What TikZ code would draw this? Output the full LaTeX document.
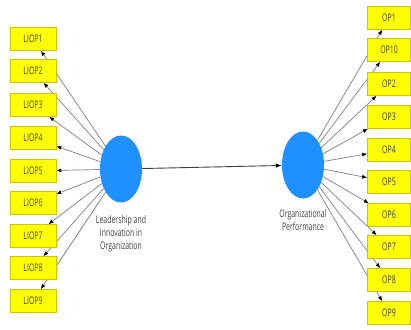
\documentclass[tikz,border=0pt]{standalone}
\usepackage{fontspec}
\setmainfont{Open Sans}[FakeStretch=0.66]
\usetikzlibrary{arrows.meta,backgrounds,shapes.geometric}
\definecolor{boxyellow}{RGB}{255,255,0}
\definecolor{boxline}{RGB}{205,195,0}
\definecolor{latblue}{RGB}{30,144,255}
\definecolor{linegray}{RGB}{128,128,128}
\definecolor{textgray}{RGB}{64,64,64}
\begin{document}
\begin{tikzpicture}[x=1pt,y=-1pt,
  ind/.style={draw=boxline, line width=0.5pt, fill=boxyellow, minimum width=46pt, minimum height=23pt, inner sep=0pt, font=\fontsize{10.5}{13}\selectfont, text=textgray},
  lat/.style={ellipse, fill=latblue, draw=none, minimum width=42pt, minimum height=67pt, inner sep=0pt},
  lbl/.style={align=center, font=\fontsize{10.5}{13}\selectfont, text=textgray},
  edgeline/.style={draw=linegray, line width=0.7pt, -{Latex[length=5pt,width=4pt,black]}},
  pathline/.style={draw=black!75, line width=0.9pt, -{Latex[length=6pt,width=4.5pt,black]}}]
\useasboundingbox (0,0) rectangle (411,329);
\node[lat] (LIO) at (121,169) {};
\node[lat] (OP) at (303,165) {};
\node[lbl] (LIOlbl) at (121,234) {Leadership and\\Innovation in\\Organization};
\node[lbl] (OPlbl) at (303,220.5) {Organizational\\Performance};
\foreach \i/\y in {1/39,2/71,3/105,4/138,5/171,6/203,7/236,8/268,9/301}
  \node[ind] (L\i) at (33,\y) {LIOP\i};
\foreach \i/\y in {1/18,10/50,2/84,3/117,4/150,5/182,6/215,7/247,8/280,9/313}
  \node[ind, minimum width=43pt] (R\i) at (389,\y) {OP\i};
\begin{scope}[on background layer]
  \fill[white] (0,0) rectangle (411,329);
  \foreach \i in {1,...,9}
    \draw[edgeline] (LIO) -- (L\i);
  \foreach \i in {1,...,10}
    \draw[edgeline] (OP) -- (R\i);
\end{scope}
\draw[pathline] (LIO) -- (OP);
\end{tikzpicture}
\end{document}
